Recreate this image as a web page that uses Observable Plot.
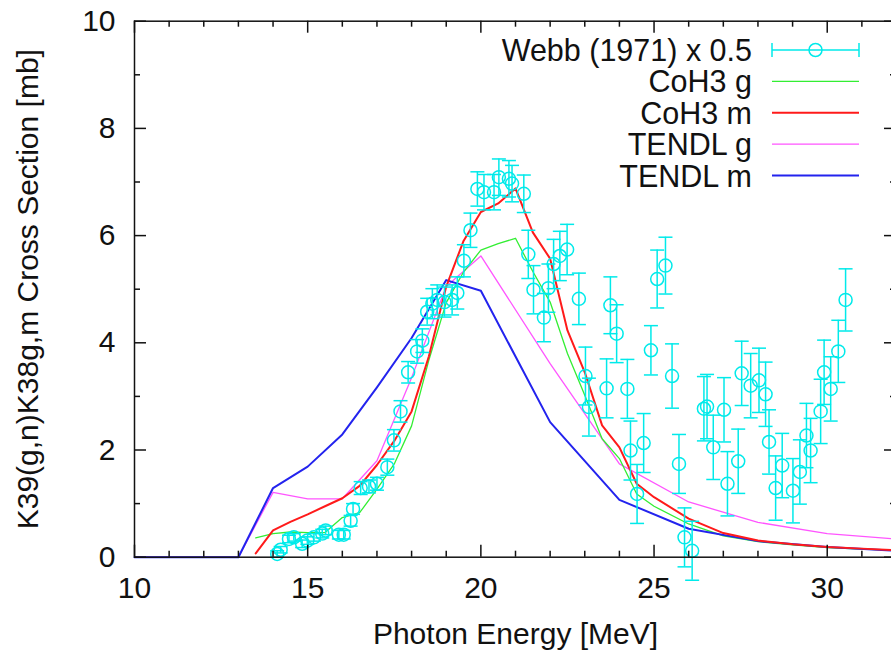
<!DOCTYPE html>
<html><head><meta charset="utf-8">
<script src="https://cdn.jsdelivr.net/npm/d3@7"></script>
<script src="https://cdn.jsdelivr.net/npm/@observablehq/plot@0.6"></script>
<style>
body{margin:0;background:#fff;overflow:hidden}
#wrap{position:relative;width:891px;height:654px;overflow:hidden;background:#fff}
#legend{position:absolute;left:0;top:0;pointer-events:none}
</style></head><body><div id="wrap"></div>
<script>
// ---- Webb (1971) x 0.5 experimental data ----
const webbE = [14.12,14.22,14.46,14.6,14.84,14.99,15.18,15.42,15.52,15.9,16.04,16.24,16.31,16.53,16.77,17.0,17.3,17.49,17.68,17.9,18.16,18.31,18.45,18.6,18.74,18.95,19.17,19.32,19.51,19.7,19.9,20.09,20.38,20.52,20.81,20.9,21.24,21.37,21.52,21.82,21.95,22.1,22.28,22.49,22.83,23.02,23.12,23.63,23.74,23.92,24.23,24.32,24.51,24.7,24.91,25.09,25.33,25.52,25.72,25.88,26.1,26.44,26.53,26.71,27.02,27.12,27.43,27.53,27.79,28.03,28.22,28.32,28.51,28.7,29.01,29.21,29.4,29.52,29.81,29.91,30.1,30.32,30.53];
const webbXS = [0.06,0.14,0.34,0.37,0.25,0.31,0.37,0.44,0.5,0.42,0.42,0.68,0.9,1.29,1.32,1.37,1.68,2.18,2.72,3.45,3.84,4.04,4.58,4.73,4.8,4.76,4.8,4.93,5.53,6.1,6.87,6.81,6.81,7.09,7.06,6.97,6.78,5.65,4.99,4.47,5.02,5.47,5.62,5.74,4.82,3.38,2.8,3.15,4.7,4.17,3.14,1.99,1.18,2.13,3.86,5.19,5.44,3.38,1.74,0.37,0.12,2.77,2.81,2.05,2.75,1.37,1.79,3.43,3.2,3.3,3.04,2.15,1.29,1.71,1.24,1.59,2.27,1.99,2.72,3.45,3.14,3.84,4.8];
const webbErr = [0.06,0.06,0.07,0.07,0.07,0.07,0.07,0.08,0.08,0.08,0.08,0.1,0.1,0.12,0.12,0.12,0.15,0.2,0.2,0.2,0.22,0.22,0.25,0.28,0.28,0.28,0.28,0.3,0.3,0.32,0.32,0.33,0.33,0.34,0.34,0.34,0.35,0.45,0.45,0.45,0.45,0.46,0.46,0.47,0.48,0.54,0.54,0.55,0.53,0.54,0.55,0.55,0.55,0.55,0.46,0.54,0.53,0.6,0.55,0.55,0.55,0.6,0.6,0.6,0.6,0.6,0.6,0.6,0.6,0.6,0.6,0.6,0.6,0.6,0.6,0.6,0.6,0.6,0.6,0.6,0.6,0.58,0.58];

// ---- CoH3 calculations ----
const cohE  = [13.5,14,14.5,15,15.5,16,16.5,17,17.5,18,18.5,19,19.5,20,20.5,21,21.5,22,22.5,23,23.5,24,24.5,25,26,27,28,29,30,31,32];
const cohG  = [0.36,0.44,0.47,0.46,0.46,0.74,0.83,1.27,1.74,2.45,3.68,4.75,5.32,5.73,5.85,5.95,5.33,4.76,3.8,3.02,2.21,1.84,1.18,0.95,0.62,0.40,0.29,0.23,0.18,0.15,0.13];
const cohM  = [0.07,0.5,0.66,0.8,0.95,1.1,1.33,1.72,2.17,2.72,3.75,5.05,5.9,6.44,6.6,6.88,6.06,5.57,4.23,3.45,2.46,2.05,1.37,1.12,0.72,0.45,0.31,0.24,0.19,0.16,0.13];

// ---- TENDL ----
const tendlE = [10,13,14,15,16,17,18,19,20,22,24,26,28,30,32];
const tendlG = [0,0,1.21,1.09,1.09,1.80,3.35,5.05,5.62,3.61,1.74,1.03,0.65,0.44,0.34];
const tendlM = [0,0,1.29,1.69,2.29,3.17,4.09,5.17,4.97,2.52,1.07,0.53,0.30,0.19,0.12];

// ---- axes / labels ----
const xMajor = [10,15,20,25,30];
const xMinor = [11,12,13,14,16,17,18,19,21,22,23,24,26,27,28,29,31];
const yMajor = [0,2,4,6,8,10];
const yMinor = [1,3,5,7,9];
const xTitle = "Photon Energy [MeV]";
const yTitle = "K39(g,n)K38g,m Cross Section [mb]";
const seriesNames = ["Webb (1971) x 0.5","CoH3 g","CoH3 m","TENDL g","TENDL m"];
const seriesColors = ["#00eaea","#33ee33","#ff1a1a","#ff55ff","#2323ee"];
const seriesWidths = [1.5,1.3,2,1.3,2];

const webb = webbE.map((E,i)=>({E, v: webbXS[i], e: webbErr[i]}));
const mk = (xs, ys) => xs.map((E,i)=>({E, v: ys[i]}));
const dCohG = mk(cohE, cohG), dCohM = mk(cohE, cohM);
const dTenG = mk(tendlE, tendlG), dTenM = mk(tendlE, tendlM);

const W = 896, H = 654, mL = 134, mR = 0, mT = 20.7, mB = 97.3;
const plotW = W - mL - mR, plotH = H - mT - mB;
const FONT = "'Liberation Sans', Arial, Helvetica, sans-serif";
const FS = 30;
const capSymbol = {draw(ctx, size){ const r = Math.sqrt(size/Math.PI); ctx.moveTo(-r,0); ctx.lineTo(r,0); }};
const cyan = seriesColors[0];

const chart = Plot.plot({
  width: W, height: H,
  marginLeft: mL, marginRight: mR, marginTop: mT, marginBottom: mB,
  style: {fontFamily: FONT, fontSize: FS + "px", background: "white", maxWidth: "none", overflow: "visible", color: "#111"},
  x: {domain: [10, 32]},
  y: {domain: [0, 10]},
  marks: [
    // lines
    Plot.line(dTenG, {x: "E", y: "v", stroke: seriesColors[3], strokeWidth: seriesWidths[3]}),
    Plot.line(dCohG, {x: "E", y: "v", stroke: seriesColors[1], strokeWidth: seriesWidths[1]}),
    Plot.line(dTenM, {x: "E", y: "v", stroke: seriesColors[4], strokeWidth: seriesWidths[4]}),
    Plot.line(dCohM, {x: "E", y: "v", stroke: seriesColors[2], strokeWidth: seriesWidths[2]}),
    // Webb data with error bars
    Plot.ruleX(webb, {x: "E", y1: d => d.v - d.e, y2: d => d.v + d.e, stroke: cyan, strokeWidth: 1.5}),
    Plot.dot(webb, {x: "E", y: d => d.v + d.e, symbol: capSymbol, r: 7, stroke: cyan, strokeWidth: 1.5}),
    Plot.dot(webb, {x: "E", y: d => d.v - d.e, symbol: capSymbol, r: 7, stroke: cyan, strokeWidth: 1.5}),
    Plot.dot(webb, {x: "E", y: "v", r: 6.5, stroke: cyan, fill: "none", strokeWidth: 1.5}),
    // frame
    Plot.frame({stroke: "#111", strokeWidth: 1.5}),
    // inward ticks
    Plot.tickX(xMajor, {x: d => d, insetTop: plotH - 12, stroke: "#111", strokeWidth: 1.5}),
    Plot.tickX(xMajor, {x: d => d, insetBottom: plotH - 12, stroke: "#111", strokeWidth: 1.5}),
    Plot.tickX(xMinor, {x: d => d, insetTop: plotH - 6, stroke: "#111", strokeWidth: 1.5}),
    Plot.tickX(xMinor, {x: d => d, insetBottom: plotH - 6, stroke: "#111", strokeWidth: 1.5}),
    Plot.tickY(yMajor, {y: d => d, insetRight: plotW - 12, stroke: "#111", strokeWidth: 1.5}),
    Plot.tickY(yMajor, {y: d => d, insetLeft: plotW - 12, stroke: "#111", strokeWidth: 1.5}),
    Plot.tickY(yMinor, {y: d => d, insetRight: plotW - 6, stroke: "#111", strokeWidth: 1.5}),
    Plot.tickY(yMinor, {y: d => d, insetLeft: plotW - 6, stroke: "#111", strokeWidth: 1.5}),
    // tick labels
    Plot.axisX({ticks: xMajor, tickSize: 0, tickPadding: 19, label: null, fontSize: FS, tickFormat: d => String(d)}),
    Plot.axisY({ticks: yMajor, tickSize: 0, tickPadding: 19, label: null, fontSize: FS, tickFormat: d => String(d)}),
    // axis titles
    Plot.text([xTitle], {frameAnchor: "bottom", dy: 87, fontSize: FS, fill: "#111"}),
    Plot.text([yTitle], {frameAnchor: "left", textAnchor: "middle", lineAnchor: "middle", dx: -106, rotate: -90, fontSize: FS, fill: "#111"})
  ]
});
const wrap = document.getElementById("wrap");
wrap.appendChild(chart);

// legend overlay
const lg = d3.select(wrap).append("svg").attr("id","legend").attr("width",891).attr("height",654)
  .style("font-family", FONT).style("font-size", "30.5px");
const rowY0 = 50, rowDY = 31.4, textRight = 752, sx1 = 772, sx2 = 859;
seriesNames.forEach((name, i) => {
  const y = rowY0 + i*rowDY;
  lg.append("text").attr("x", textRight).attr("y", y).attr("dy","0.36em").attr("text-anchor","end").attr("fill","#111").text(name);
  const c = seriesColors[i];
  lg.append("line").attr("x1",sx1).attr("x2",sx2).attr("y1",y).attr("y2",y).attr("stroke",c).attr("stroke-width",seriesWidths[i]);
  if (i === 0) {
    lg.append("line").attr("x1",sx1).attr("x2",sx1).attr("y1",y-7).attr("y2",y+7).attr("stroke",c).attr("stroke-width",1.5);
    lg.append("line").attr("x1",sx2).attr("x2",sx2).attr("y1",y-7).attr("y2",y+7).attr("stroke",c).attr("stroke-width",1.5);
    lg.append("circle").attr("cx",(sx1+sx2)/2).attr("cy",y).attr("r",6.5).attr("fill","none").attr("stroke",c).attr("stroke-width",1.5);
  }
});
</script></body></html>
